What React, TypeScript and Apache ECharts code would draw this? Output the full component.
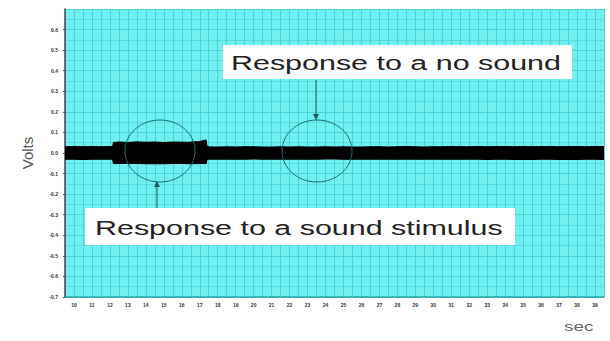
import React, { useEffect, useRef } from "react";
import * as echarts from "echarts";

// x tick labels (seconds) – one per unit, drawn at unit centres
const xLabels = [
  "10", "11", "12", "13", "14", "15", "16", "17", "18", "19",
  "20", "21", "22", "23", "24", "25", "26", "27", "28", "29",
  "30", "31", "32", "33", "34", "35", "36", "37", "38", "39",
];

// envelope of the recorded signal (sec, volts)
const envX = [
  0, 0.5, 1, 1.5, 2, 2.5, 2.65, 2.7, 3, 3.5, 4, 4.5, 5, 5.5, 6, 6.5, 7, 7.5, 7.85, 7.9,
  8, 8.5, 9, 9.5, 10, 10.5, 11, 11.5, 12, 12.5, 13, 13.5, 14, 14.5, 15, 15.5, 16, 16.5,
  17, 17.5, 18, 18.5, 19, 19.5, 20, 20.5, 21, 21.5, 22, 22.5, 23, 23.5, 24, 24.5, 25,
  25.5, 26, 26.5, 27, 27.5, 28, 28.5, 29, 29.5, 30,
];
const envUpper = [
  0.030, 0.031, 0.030, 0.031, 0.030, 0.031, 0.031, 0.051, 0.053, 0.051, 0.054, 0.052, 0.053, 0.051, 0.053, 0.052, 0.053, 0.055, 0.063, 0.034,
  0.030, 0.029, 0.030, 0.029, 0.030, 0.030, 0.029, 0.029, 0.030, 0.029, 0.030, 0.029, 0.029, 0.030, 0.029, 0.030, 0.029, 0.029,
  0.030, 0.030, 0.029, 0.030, 0.031, 0.030, 0.029, 0.030, 0.030, 0.031, 0.030, 0.030, 0.031, 0.030, 0.031, 0.031, 0.030,
  0.031, 0.030, 0.031, 0.031, 0.030, 0.031, 0.031, 0.030, 0.031, 0.031,
];
const envLower = [
  -0.030, -0.030, -0.031, -0.030, -0.030, -0.030, -0.030, -0.050, -0.051, -0.050, -0.050, -0.052, -0.050, -0.052, -0.050, -0.051, -0.052, -0.050, -0.051, -0.032,
  -0.029, -0.030, -0.029, -0.030, -0.030, -0.029, -0.030, -0.029, -0.030, -0.030, -0.029, -0.030, -0.030, -0.029, -0.029, -0.030, -0.030, -0.029,
  -0.030, -0.029, -0.030, -0.030, -0.029, -0.030, -0.030, -0.029, -0.030, -0.030, -0.030, -0.029, -0.030, -0.031, -0.030, -0.030, -0.031,
  -0.030, -0.031, -0.030, -0.030, -0.031, -0.030, -0.031, -0.030, -0.030, -0.031,
];

const annotations = ["Response to a no sound", "Response to a sound stimulus"];

export default function App() {
  const ref = useRef<HTMLDivElement>(null);
  useEffect(() => {
    if (!ref.current) return;
    const chart = echarts.init(ref.current, null, { renderer: "svg" });
    const upperData = envX.map((x, i) => [x, envUpper[i]]);
    const lowerData = envX.map((x, i) => [x, envLower[i]]);
    const SX = 1.45;
    const font = "Liberation Sans, Arial, sans-serif";
    const bandSeries = (data: number[][]) => ({
      type: "line",
      data,
      symbol: "none",
      lineStyle: { color: "#000", width: 1.2 },
      areaStyle: { color: "#000", opacity: 1, origin: 0 },
      z: 3,
    });
    chart.setOption({
      animation: false,
      grid: {
        left: 65, right: 6, top: 9, bottom: 44,
        show: true, backgroundColor: "#70eff0", borderWidth: 0,
      },
      xAxis: {
        type: "value", min: 0, max: 30, interval: 0.5,
        axisLine: { show: true, onZero: false, lineStyle: { color: "#2aa8ae", width: 1.5 } },
        axisTick: { show: false },
        splitLine: { show: true, lineStyle: { color: "#4ad2d8", width: 1 } },
        axisLabel: {
          fontSize: 5, color: "#333", margin: 5, fontWeight: "bold",
          formatter: (v: number) => {
            const f = v - Math.floor(v);
            if (Math.abs(f - 0.5) < 0.01) return xLabels[Math.floor(v)] ?? "";
            return "";
          },
        },
      },
      yAxis: {
        type: "value", min: -0.7, max: 0.7, interval: 0.1,
        name: "Volts", nameLocation: "middle", nameGap: 30, nameRotate: 90,
        nameTextStyle: { fontSize: 15, color: "#555", fontFamily: font },
        axisLine: { show: true, lineStyle: { color: "#444", width: 1.5 } },
        axisTick: { show: true, length: 2, lineStyle: { color: "#555" } },
        minorTick: { show: false, splitNumber: 2 },
        splitLine: { show: true, lineStyle: { color: "#4ad2d8", width: 1 } },
        minorSplitLine: { show: true, lineStyle: { color: "#58dce1", width: 1 } },
        axisLabel: {
          fontSize: 5, color: "#333", margin: 7, fontWeight: "bold",
          showMaxLabel: false,
          formatter: (v: number) => v.toFixed(1),
        },
      },
      series: [bandSeries(upperData), bandSeries(lowerData)],
      graphic: [
        { type: "ellipse", shape: { cx: 160, cy: 151, rx: 35, ry: 31 }, style: { fill: "none", stroke: "#1e6e70", lineWidth: 1 }, z: 10 },
        { type: "ellipse", shape: { cx: 317, cy: 151, rx: 35, ry: 31 }, style: { fill: "none", stroke: "#1e6e70", lineWidth: 1 }, z: 10 },
        { type: "rect", shape: { x: 223, y: 45, width: 349, height: 34 }, style: { fill: "#fff" }, z: 10 },
        { type: "rect", shape: { x: 85, y: 208, width: 430, height: 37 }, style: { fill: "#fff" }, z: 10 },
        {
          type: "text", x: 231, y: 63, scaleX: SX, z: 11,
          style: { text: annotations[0], font: `21px ${font}`, fill: "#222", textAlign: "left", textVerticalAlign: "middle" },
        },
        {
          type: "text", x: 95, y: 228, scaleX: SX, z: 11,
          style: { text: annotations[1], font: `21px ${font}`, fill: "#222", textAlign: "left", textVerticalAlign: "middle" },
        },
        { type: "line", shape: { x1: 316, y1: 80, x2: 316, y2: 116 }, style: { stroke: "#1e5e60", lineWidth: 1 }, z: 10 },
        { type: "polygon", shape: { points: [[313, 114], [319, 114], [316, 120]] }, style: { fill: "#1e5e60" }, z: 10 },
        { type: "line", shape: { x1: 157, y1: 208, x2: 157, y2: 185 }, style: { stroke: "#1e5e60", lineWidth: 1 }, z: 10 },
        { type: "polygon", shape: { points: [[154, 187], [160, 187], [157, 181]] }, style: { fill: "#1e5e60" }, z: 10 },
        {
          type: "text", x: 564, y: 326, scaleX: SX, z: 11,
          style: { text: "sec", font: `13px ${font}`, fill: "#666", textAlign: "left", textVerticalAlign: "middle" },
        },
      ],
    });
    return () => chart.dispose();
  }, []);
  return <div ref={ref} style={{ width: 610, height: 341, position: "absolute", left: 0, top: 0 }} />;
}
